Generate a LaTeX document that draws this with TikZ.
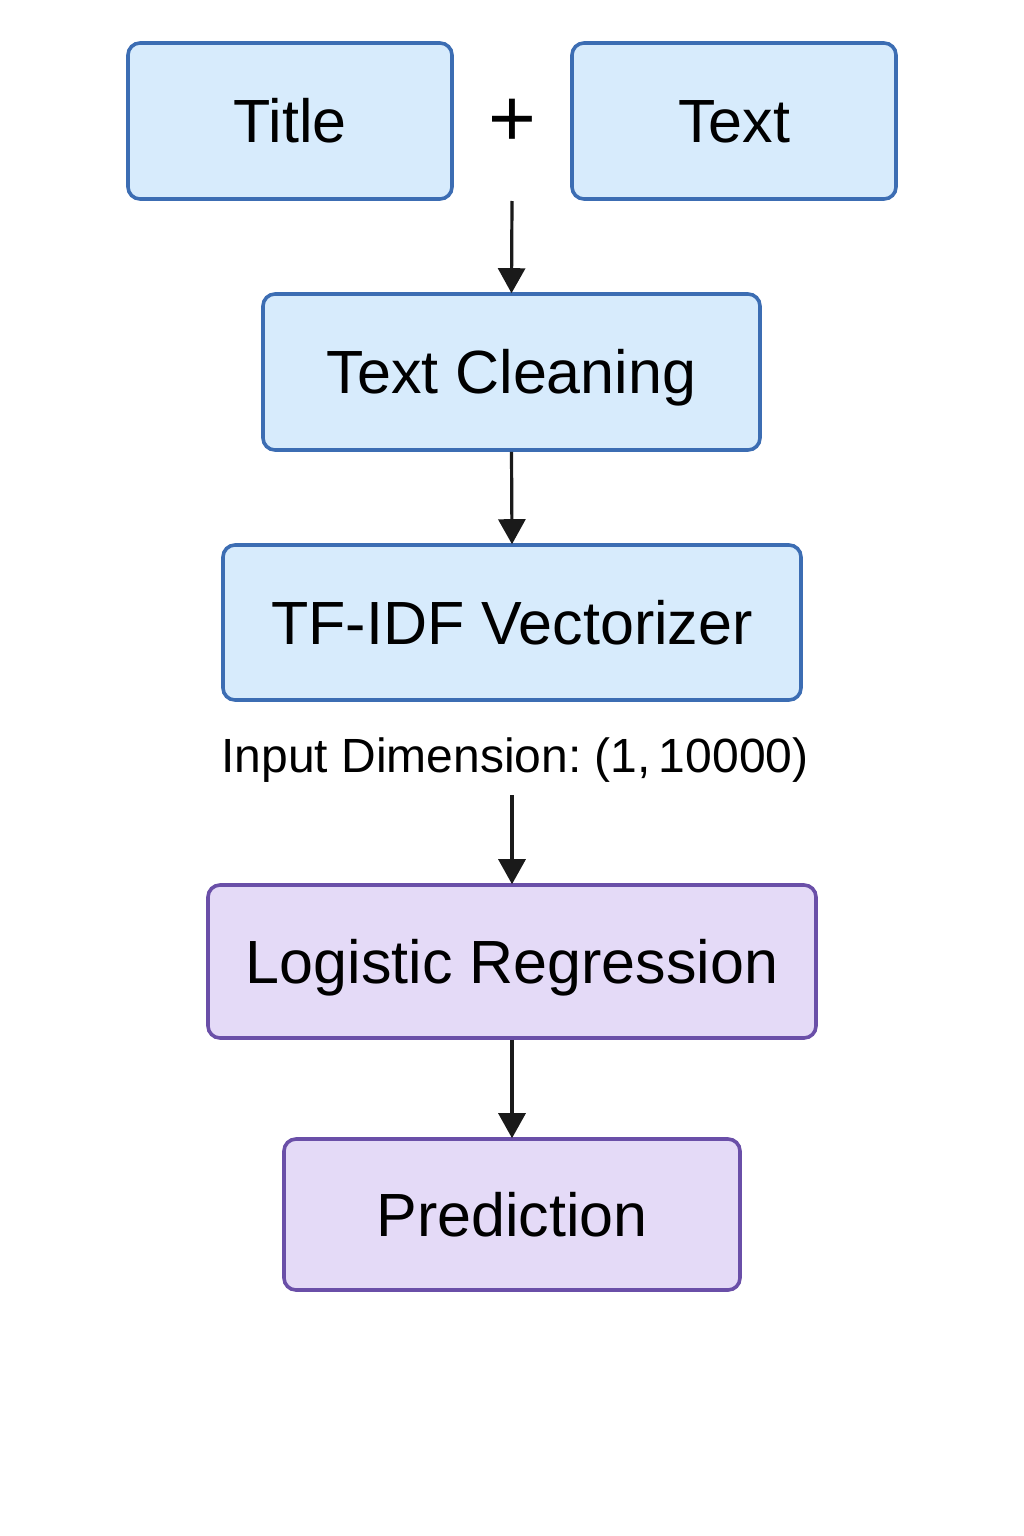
\documentclass[tikz,border=0pt]{standalone}
\usepackage{fontspec}
\setmainfont{Liberation Sans}
\usetikzlibrary{arrows.meta}
\definecolor{bfill}{HTML}{D7EBFC}
\definecolor{bdraw}{HTML}{3C6DB3}
\definecolor{pfill}{HTML}{E4DAF7}
\definecolor{pdraw}{HTML}{6A4FA8}
\definecolor{ink}{HTML}{1A1A1A}
\frenchspacing
\tikzset{
  box/.style={rounded corners=12pt, line width=3.6pt, inner sep=0pt, anchor=center, text=black,
    font=\fontsize{61}{61}\selectfont, text height=43.7pt, text depth=0pt},
  bluebox/.style={box, draw=bdraw, fill=bfill},
  purplebox/.style={box, draw=pdraw, fill=pfill},
  flow/.style={draw=ink, line width=3.2pt, -{Triangle[length=25pt,width=27pt]}, shorten >=-1pt},
}
\begin{document}
\begin{tikzpicture}[x=1pt,y=-1pt]
\useasboundingbox (0,0) rectangle (1024,1536);
\fill[white] (0,0) rectangle (1024,1536);
\node[bluebox, minimum width=324pt, minimum height=156pt] (title) at (290,121) {Title};
\node[bluebox, minimum width=324pt, minimum height=156pt] (text) at (734,121) {Text};
\node[font=\fontsize{82}{82}\selectfont, inner sep=0pt] (plus) at (512,123) {+};
\coordinate (join) at (512,201);
\node[bluebox, minimum width=497pt, minimum height=156pt] (clean) at (511.5,372) {Text Cleaning};
\node[bluebox, minimum width=578pt, minimum height=155pt] (tfidf) at (512,622.5) {TF-IDF Vectorizer};
\node[font=\fontsize{48}{48}\selectfont, inner sep=0pt] (dim) at (515,760) {Input Dimension: (1,\,10000)};
\coordinate (dimout) at (512,795);
\node[purplebox, minimum width=608pt, minimum height=153pt] (logreg) at (512,961.5) {Logistic Regression};
\node[purplebox, minimum width=456pt, minimum height=151pt] (pred) at (512,1214.5) {Prediction};
\draw[flow] (join) -- (clean.north);
\draw[flow] (clean.south) -- (tfidf.north);
\draw[flow] (dimout) -- (logreg.north);
\draw[flow] (logreg.south) -- (pred.north);
\end{tikzpicture}
\end{document}
